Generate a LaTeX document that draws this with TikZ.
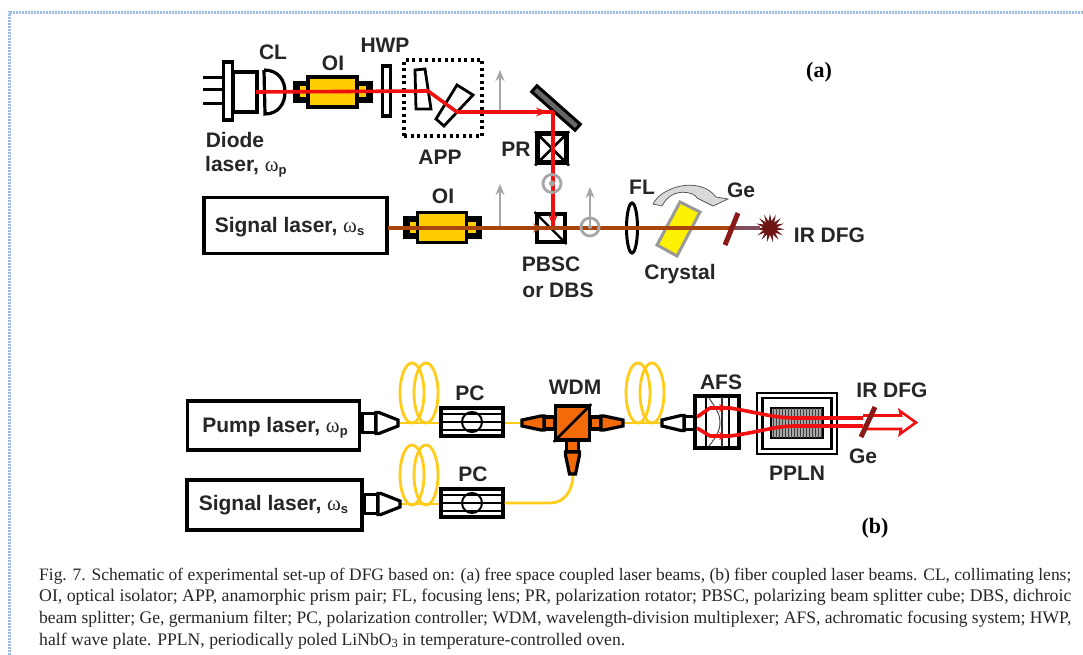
\documentclass[tikz,border=0pt]{standalone}
\usepackage{fontspec}
\setmainfont{Liberation Sans}
\newfontfamily\capfont{Liberation Serif}
\usetikzlibrary{arrows.meta,shapes.geometric}
\definecolor{oiyellow}{HTML}{FFCC00}
\definecolor{wdmorange}{HTML}{F26A0A}
\definecolor{beamred}{HTML}{F01010}
\definecolor{beambrown}{HTML}{A8450F}
\definecolor{gedark}{HTML}{8A1A1A}
\definecolor{arrowgray}{HTML}{A6A6A6}
\definecolor{borderblue}{HTML}{9DBDE8}
\definecolor{fibery}{HTML}{FFCC1A}
\tikzset{
 lbl/.style={font=\bfseries\fontsize{21}{24}\selectfont,inner sep=0pt,text=black!85},
 tag/.style={font=\capfont\bfseries\fontsize{22}{24}\selectfont,inner sep=0pt},
 captext/.style={font=\capfont\fontsize{17}{20}\selectfont,inner sep=0pt,anchor=base west,text=black!85},
 blk/.style={draw=black,line width=3.2pt,line join=miter},
 lasbox/.style={draw=black,line width=3.6pt,fill=white,inner sep=0pt},
 redbeam/.style={draw=beamred,line width=3.6pt},
 brownbeam/.style={draw=beambrown,line width=4pt},
 grayarr/.style={draw=arrowgray,line width=2.2pt,-{Stealth[length=11pt,width=9pt]}},
 graycirc/.style={draw=arrowgray,line width=2.8pt,circle,inner sep=0pt,minimum size=18pt},
 fiber/.style={draw=fibery,line width=2.8pt},
 filter/.style={draw=gedark,line width=5pt},
}
% isolator
\newcommand{\myiso}[2]{\begin{scope}[shift={(#1,#2)}]
 \draw[blk,fill=black] (-38,-9.5) rectangle (38,9.5);
 \draw[fill=oiyellow,draw=none] (-33,-5.5) rectangle (-24,5.5);
 \draw[fill=oiyellow,draw=none] (24,-5.5) rectangle (33,5.5);
 \draw[blk,fill=oiyellow] (-25,-15) rectangle (24,15);
\end{scope}}
% fibre connector: rect + taper, pointing along +x of the scope
\newcommand{\myconn}[6]{\begin{scope}[shift={(#1,#2)},rotate=#3]
 \draw[blk,fill=#4] (0,-#6) rectangle (#5,#6);
 \draw[blk,fill=#4] (#5,-#6-1) -- (#5+3,-#6-1) -- (#5+22,-3) -- (#5+22,3) -- (#5+3,#6+1) -- (#5,#6+1) -- cycle;
\end{scope}}
\newcommand{\mycoil}[3]{%
 \draw[fiber] (#1,#2) ellipse (12 and #3);
 \draw[fiber] (#1+14,#2) ellipse (12 and #3);}
\newcommand{\mypc}[2]{\begin{scope}[shift={(#1,#2)}]
 \draw[line width=2pt] (-32,-8) -- (32,-8) (-32,0) -- (32,0) (-32,8) -- (32,8);
 \draw[line width=2pt,fill=none] (0,0) circle (10);
\end{scope}}
\newcommand{\wsub}[1]{\raisebox{-0.3ex}{\bfseries\fontsize{13}{13}\selectfont #1}}
\newcommand{\womega}{{\capfont\mdseries ω}}
\begin{document}
\begin{tikzpicture}[x=1pt,y=-1pt]
\useasboundingbox (0,0) rectangle (1083,655);
\fill[white] (0,0) rectangle (1083,655);
% page border
\coordinate (bl) at (9.5,655);
\coordinate (bc) at (9.5,13);
\coordinate (br) at (1083,13);
\draw[borderblue,line width=3pt,dash pattern=on 2pt off 1pt] (bl) -- (bc) -- (br);

%%%%%%%%%% (a)
% diode laser
\coordinate (pinA) at (203,78); \coordinate (pinAe) at (224,78);
\coordinate (pinB) at (203,90); \coordinate (pinBe) at (224,90);
\coordinate (pinC) at (203,104); \coordinate (pinCe) at (224,104);
\draw[line width=3pt] (pinA)--(pinAe) (pinB)--(pinBe) (pinC)--(pinCe);
\node[blk,fill=white,minimum width=9pt,minimum height=58pt,inner sep=0pt] (flange) at (228,91) {};
\node[blk,fill=white,minimum width=24pt,minimum height=40pt,inner sep=0pt] (diode) at (245,92) {};
% collimating lens
\draw[blk,fill=white] (264,70) -- (265,114) .. controls (278,114) and (285,104) .. (285,92) .. controls (285,80) and (278,70) .. (264,70);
% OI 1
\myiso{333}{92}
% HWP
\node[blk,fill=white,minimum width=8pt,minimum height=50pt,inner sep=0pt] (hwp) at (386.5,91) {};
% APP
\node[draw=black,line width=3.5pt,dash pattern=on 3pt off 3.5pt,minimum width=78pt,minimum height=76pt,inner sep=0pt] (app) at (443,98) {};
\draw[line width=2.8pt,fill=white] (415,70) -- (425,69) -- (431,109) -- (416,109) -- cycle;
\draw[line width=2.8pt,fill=white] (457,85) -- (473,95) -- (444,126) -- (436,119) -- cycle;
% mirror
\node[draw=black,fill=black!60,line width=3pt,minimum width=58pt,minimum height=8pt,inner sep=0pt,rotate=-41.6] (mirror) at (556,108) {};
% PR
\node[blk,line width=5pt,fill=white,minimum width=29pt,minimum height=29pt,inner sep=0pt] (pr) at (552,148.5) {};
\draw[line width=2.6pt] (pr.north west) -- (pr.south east) (pr.north east) -- (pr.south west);
% gray arrows
\coordinate (ga1) at (500,112); \coordinate (ga1t) at (500,70);
\coordinate (ga2) at (500,227); \coordinate (ga2t) at (500,184);
\coordinate (ga3) at (590,227); \coordinate (ga3t) at (590,187);
\draw[grayarr] (ga1) -- (ga1t);
\draw[grayarr] (ga2) -- (ga2t);
\draw[grayarr] (ga3) -- (ga3t);
% signal laser
\node[lasbox,minimum width=183pt,minimum height=56pt] (siga) at (295.5,225.5) {};
% OI 2
\myiso{442.5}{227.5}
% PBSC
\node[blk,line width=4pt,fill=white,minimum width=28pt,minimum height=28pt,inner sep=0pt] (pbsc) at (550.5,228) {};
\draw[line width=2.2pt] (pbsc.north west) -- (pbsc.south east);
% FL
\node[draw=black,line width=3pt,ellipse,fill=white,minimum width=11pt,minimum height=50pt,inner sep=0pt] (fl) at (632,228) {};
% crystal
\draw[draw=black!40,line width=3pt,fill=yellow] (680,202) -- (700,212) -- (677,256) -- (657,245) -- cycle;
% beams
\coordinate (rb0) at (256,92); \coordinate (rb1) at (428,91); \coordinate (rb2) at (457,112); \coordinate (rb3) at (553,112); \coordinate (rb4) at (553,228);
\draw[redbeam,line join=round] (rb0) -- (rb1) -- (rb2) -- (rb3) -- (rb4);
\draw[draw=beamred,line width=1pt,-{Stealth[length=11pt,width=9pt]}] (533,112) -- (547,112);
\draw[draw=beamred,line width=1pt,-{Stealth[length=11pt,width=9pt]}] (553,205) -- (553,226);
\coordinate (sb0) at (388,228); \coordinate (sb1) at (733,228);
\draw[brownbeam] (sb0) -- (sb1);
\draw[draw=beambrown,line width=1pt,-{Stealth[length=11pt,width=9pt]}] (525,228) -- (544,228);
% gray circles
\node[graycirc] (gc1) at (552,183.5) {};
\fill[arrowgray] (gc1.center) circle (3);
\node[graycirc] (gc2) at (590,227) {};
\fill[arrowgray] (gc2.center) circle (2);
% Ge + output
\node[draw=none,fill=gedark!80!black,star,star points=15,star point ratio=2.1,minimum size=29pt,inner sep=0pt] (burst) at (770,228) {};
\draw[draw=black!60!magenta!70!gedark,line width=4pt] (733,228) -- (burst);
\coordinate (gea) at (738,213); \coordinate (geb) at (725,245);
\draw[filter] (gea) -- (geb);
% curved arrow
\draw[draw=black!70,line width=0.7pt,fill=black!15] (653,204) .. controls (662,186) and (700,176) .. (716,197) -- (728,199) -- (713,206) -- (697,198) .. controls (695,192) and (672,186) .. (662,206) -- cycle;
% labels (a)
\node[lbl] (tCL) at (273,52) {CL};
\node[lbl] (tOI) at (333,63) {OI};
\node[lbl] (tHWP) at (385,45) {HWP};
\node[lbl] (tDiode) at (235,140) {Diode};
\node[lbl,anchor=west] (tLaser) at (205,167) {laser, \womega\wsub{p}};
\node[lbl] (tAPP) at (440,157) {APP};
\node[lbl] (tPR) at (516,149) {PR};
\node[lbl] (tOIb) at (443,196) {OI};
\node[lbl] (tSig) at (289.5,227) {Signal laser, \womega\wsub{s}};
\node[lbl] (tFL) at (642,187) {FL};
\node[lbl] (tGe) at (741,190) {Ge};
\node[lbl] (tIR) at (829.5,235) {IR DFG};
\node[lbl] (tCrys) at (680,274) {Crystal};
\node[lbl] (tP) at (551,264) {PBSC};
\node[lbl] (tDBS) at (558,290) {or DBS};
\node[tag] (ta) at (819,72) {(a)};

%%%%%%%%%% (b)
% coils
\mycoil{412}{393}{30}
\mycoil{412}{475}{30}
\mycoil{638}{393}{30}
% lasers
\node[lasbox,minimum width=172pt,minimum height=49pt] (pump) at (273.5,425.5) {};
\node[lasbox,minimum width=175pt,minimum height=50pt] (sigb) at (274.5,505) {};
\node[lbl] (tPump) at (275,428) {Pump laser, \womega\wsub{p}};
\node[lbl] (tSigb) at (273.5,505) {Signal laser, \womega\wsub{s}};
% PC boxes
\node[blk,fill=white,minimum width=62pt,minimum height=28pt,inner sep=0pt] (pc1) at (472,422) {};
\node[blk,fill=white,minimum width=62pt,minimum height=28pt,inner sep=0pt] (pc2) at (472,503) {};
\mypc{472}{422}
\mypc{472}{503}
% fibres
\coordinate (f1a) at (398,423); \coordinate (f2a) at (400,504); \coordinate (wl) at (522,423);
\coordinate (wr) at (624,423); \coordinate (afsin) at (662,423); \coordinate (wb) at (573,474);
\draw[fiber] (f1a) -- (pc1.west |- f1a);
\draw[fiber] (f2a) -- (pc2.west |- f2a);
\draw[fiber] (pc1.east |- wl) -- (wl);
\draw[fiber] (pc2.east) -- (550,503) .. controls (565,503) and (573,490) .. (wb);
\draw[fiber] (wr) -- (afsin);
% connectors
\myconn{362}{423}{0}{white}{14}{9.5}
\myconn{364}{504}{0}{white}{14}{9.5}
\myconn{555}{423}{180}{wdmorange}{11}{6}
\myconn{590}{423}{0}{wdmorange}{11}{6}
\myconn{572.5}{440}{-90}{wdmorange}{12}{6}
\node[blk,line width=3.6pt,fill=wdmorange,minimum width=34pt,minimum height=34pt,inner sep=0pt] (wdm) at (572.5,423) {};
\draw[line width=2.6pt] (wdm.south west) -- (wdm.north east);
\myconn{696}{423}{180}{white}{12}{6.5}
% AFS
\node[blk,fill=white,minimum width=44pt,minimum height=52pt,inner sep=0pt] (afs) at (717,422) {};
\draw[line width=1.8pt] (706,396) -- (706,448) (729,396) -- (729,448);
\draw[line width=1pt,black!70] (709,398) .. controls (717,410) and (720,415) .. (720,422) .. controls (720,430) and (717,436) .. (709,446);
\draw[line width=1.3pt,black!80] (722,397) -- (722,447);
% PPLN
\node[blk,line width=2.8pt,fill=white,minimum width=80pt,minimum height=61pt,inner sep=0pt] (ppln) at (797,423.5) {};
\node[draw=black,line width=2.2pt,minimum width=69pt,minimum height=51pt,inner sep=0pt] (ppln2) at (797,423.5) {};
\node[draw=black,line width=2.4pt,fill=black!35,minimum width=52pt,minimum height=30pt,inner sep=0pt] (xtal) at (797,423) {};
\foreach \xx in {773,776,...,822} \draw[black!75,line width=1pt] (\xx,408) -- (\xx,438);
% IR arrow
\coordinate (hA) at (863,415.5); \coordinate (hB) at (863,429);
\draw[draw=beamred,line width=2.6pt,fill=white] (hA) -- (901,415.5) -- (900,411) -- (916,422.5) -- (900,434) -- (901,429) -- (hB);
% red beams
\draw[redbeam,line join=round] (697,417) -- (710,408) -- (730,408) .. controls (760,413) and (775,418) .. (795,418) -- (863,418);
\draw[redbeam,line join=round] (697,428) -- (710,436) -- (730,436) .. controls (760,432) and (775,426) .. (795,426) -- (863,426);
\draw[draw=beamred,line width=1pt,-{Stealth[length=9pt,width=8pt]}] (712,408) -- (728,408);
\draw[draw=beamred,line width=1pt,-{Stealth[length=9pt,width=8pt]}] (712,436) -- (728,436);
\coordinate (geA) at (875,407); \coordinate (geB) at (861,437);
\draw[filter] (geA) -- (geB);
% labels (b)
\node[lbl] (tPC1) at (470,393) {PC};
\node[lbl] (tPC2) at (473,474) {PC};
\node[lbl] (tWDM) at (575,387) {WDM};
\node[lbl] (tAFS) at (721,382) {AFS};
\node[lbl] (tIRb) at (892,390) {IR DFG};
\node[lbl] (tGeb) at (863,456) {Ge};
\node[lbl] (tPPLN) at (797,473) {PPLN};
\node[tag] (tb) at (875,528) {(b)};

%%%%%%%%%% caption
\node[captext] (c1) at (39,580) {\resizebox{1032pt}{!}{Fig. 7. Schematic of experimental set-up of DFG based on: (a) free space coupled laser beams, (b) fiber coupled laser beams. CL, collimating lens;}};
\node[captext] (c2) at (39,601.5) {\resizebox{1032pt}{!}{OI, optical isolator; APP, anamorphic prism pair; FL, focusing lens; PR, polarization rotator; PBSC, polarizing beam splitter cube; DBS, dichroic}};
\node[captext] (c3) at (39,623) {\resizebox{1032pt}{!}{beam splitter; Ge, germanium filter; PC, polarization controller; WDM, wavelength-division multiplexer; AFS, achromatic focusing system; HWP,}};
\node[captext] (c4) at (39,645) {\resizebox{586pt}{!}{half wave plate. PPLN, periodically poled LiNbO\raisebox{-0.3ex}{\fontsize{12}{12}\selectfont 3} in temperature-controlled oven.}};
\end{tikzpicture}
\end{document}
